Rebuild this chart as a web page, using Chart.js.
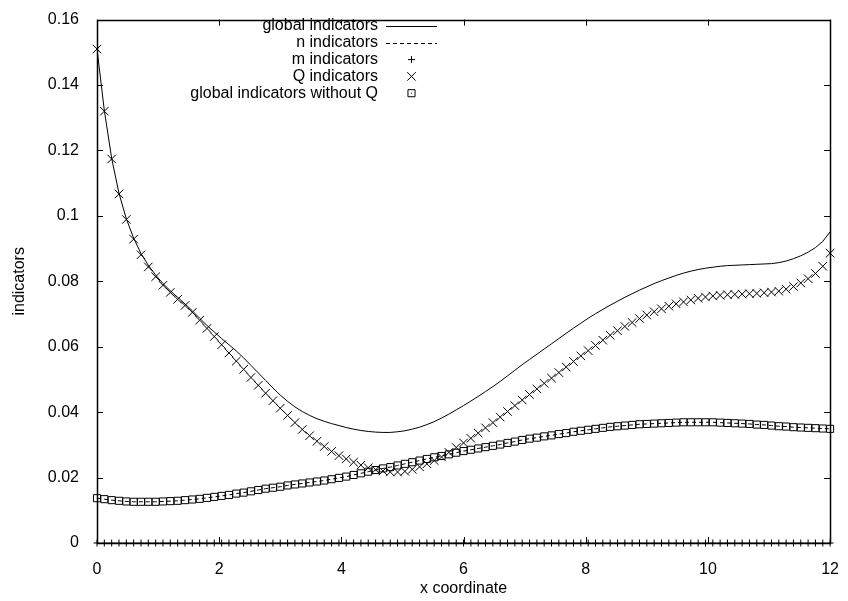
<!DOCTYPE html>
<html>
<head>
<meta charset="utf-8">
<script src="https://cdn.jsdelivr.net/npm/chart.js@4.4.0/dist/chart.umd.min.js"></script>
<style>
  html, body { margin: 0; padding: 0; background: #fff; }
  #wrap { width: 848px; height: 601px; }
</style>
</head>
<body>
<div id="wrap"><canvas id="indicatorChart" width="848" height="601"></canvas></div>
<script>
// sample positions along x (every 0.12)
const xCoords = [
  0, 0.12, 0.24, 0.36, 0.48, 0.6, 0.72, 0.84, 0.96, 1.08,
  1.2, 1.32, 1.44, 1.56, 1.68, 1.8, 1.92, 2.04, 2.16, 2.28,
  2.4, 2.52, 2.64, 2.76, 2.88, 3, 3.12, 3.24, 3.36, 3.48,
  3.6, 3.72, 3.84, 3.96, 4.08, 4.2, 4.32, 4.44, 4.56, 4.68,
  4.8, 4.92, 5.04, 5.16, 5.28, 5.4, 5.52, 5.64, 5.76, 5.88,
  6, 6.12, 6.24, 6.36, 6.48, 6.6, 6.72, 6.84, 6.96, 7.08,
  7.2, 7.32, 7.44, 7.56, 7.68, 7.8, 7.92, 8.04, 8.16, 8.28,
  8.4, 8.52, 8.64, 8.76, 8.88, 9, 9.12, 9.24, 9.36, 9.48,
  9.6, 9.72, 9.84, 9.96, 10.08, 10.2, 10.32, 10.44, 10.56, 10.68,
  10.8, 10.92, 11.04, 11.16, 11.28, 11.4, 11.52, 11.64, 11.76, 11.88,
  12
];

const globalIndicators = [
  0.151, 0.1322, 0.1176, 0.1069, 0.0991, 0.0932, 0.0885, 0.0849, 0.0819, 0.0793,
  0.0771, 0.0751, 0.0731, 0.071, 0.0687, 0.0665, 0.0645, 0.0625, 0.0606, 0.0587,
  0.0566, 0.0543, 0.052, 0.0497, 0.0474, 0.0452, 0.0433, 0.0416, 0.0402, 0.039,
  0.038, 0.0372, 0.0365, 0.0359, 0.0353, 0.0348, 0.0344, 0.0341, 0.0339, 0.0338,
  0.0338, 0.034, 0.0343, 0.0348, 0.0354, 0.0362, 0.0371, 0.0382, 0.0394, 0.0407,
  0.042, 0.0434, 0.0448, 0.0463, 0.0478, 0.0494, 0.0511, 0.0528, 0.0545, 0.0561,
  0.0577, 0.0593, 0.0609, 0.0625, 0.0641, 0.0657, 0.0672, 0.0687, 0.0701, 0.0714,
  0.0727, 0.0739, 0.0751, 0.0762, 0.0773, 0.0783, 0.0793, 0.0802, 0.081, 0.0818,
  0.0825, 0.0831, 0.0836, 0.084, 0.0843, 0.0846, 0.0848, 0.0849, 0.085, 0.0851,
  0.0852, 0.0853, 0.0854, 0.0857, 0.0862, 0.0869, 0.0878, 0.0889, 0.0903, 0.0922,
  0.0951
];

const withoutQ = [
  0.0137, 0.0134, 0.0131, 0.0129, 0.0127, 0.0126, 0.0126, 0.0126, 0.0126, 0.0127,
  0.0128, 0.0129, 0.0131, 0.0133, 0.0135, 0.0138, 0.0141, 0.0144, 0.0147, 0.0151,
  0.0154, 0.0158, 0.0162, 0.0166, 0.0169, 0.0172, 0.0176, 0.0179, 0.0182, 0.0185,
  0.0188, 0.0191, 0.0195, 0.0199, 0.0203, 0.0208, 0.0213, 0.0218, 0.0223, 0.0228,
  0.0232, 0.0237, 0.0242, 0.0247, 0.0252, 0.0257, 0.0262, 0.0266, 0.0271, 0.0276,
  0.0281, 0.0285, 0.0289, 0.0293, 0.0297, 0.0301, 0.0306, 0.031, 0.0315, 0.0319,
  0.0322, 0.0326, 0.0329, 0.0333, 0.0336, 0.034, 0.0343, 0.0346, 0.0349, 0.0352,
  0.0355, 0.0357, 0.0359, 0.0361, 0.0363, 0.0364, 0.0365, 0.0366, 0.0367, 0.0368,
  0.0369, 0.0369, 0.0369, 0.0369, 0.0369, 0.0368, 0.0367, 0.0366, 0.0365, 0.0364,
  0.0362, 0.0361, 0.0359, 0.0357, 0.0356, 0.0354, 0.0353, 0.0352, 0.0351, 0.035,
  0.0349
];

// the dashed n curve runs right through the boxes
const nIndicators = withoutQ;

const mIndicators = [
  0, 0, 0, 0, 0, 0, 0, 0, 0, 0, 0, 0, 0, 0, 0, 0, 0, 0, 0, 0,
  0, 0, 0, 0, 0, 0, 0, 0, 0, 0, 0, 0, 0, 0, 0, 0, 0, 0, 0, 0,
  0, 0, 0, 0, 0, 0, 0, 0, 0, 0, 0, 0, 0, 0, 0, 0, 0, 0, 0, 0,
  0, 0, 0, 0, 0, 0, 0, 0, 0, 0, 0, 0, 0, 0, 0, 0, 0, 0, 0, 0,
  0, 0, 0, 0, 0, 0, 0, 0, 0, 0, 0, 0, 0, 0, 0, 0, 0, 0, 0, 0,
  0
];

const qIndicators = [
  0.151, 0.132, 0.1174, 0.1067, 0.0989, 0.0929, 0.0881, 0.0844, 0.0814, 0.0788,
  0.0766, 0.0745, 0.0726, 0.0705, 0.0681, 0.0656, 0.0631, 0.0606, 0.0581, 0.0556,
  0.0531, 0.0506, 0.0482, 0.0458, 0.0435, 0.0412, 0.039, 0.0368, 0.0347, 0.0328,
  0.0311, 0.0295, 0.028, 0.0267, 0.0257, 0.0247, 0.0238, 0.023, 0.0224, 0.022,
  0.0217, 0.0217, 0.0219, 0.0225, 0.0233, 0.0242, 0.0252, 0.0263, 0.0277, 0.0292,
  0.0306, 0.032, 0.0336, 0.0352, 0.0368, 0.0385, 0.0402, 0.042, 0.0437, 0.0454,
  0.0471, 0.0488, 0.0504, 0.0521, 0.0538, 0.0555, 0.0572, 0.0588, 0.0604, 0.062,
  0.0635, 0.0649, 0.0662, 0.0674, 0.0686, 0.0697, 0.0707, 0.0716, 0.0724, 0.0731,
  0.0737, 0.0743, 0.0748, 0.0752, 0.0755, 0.0757, 0.0759, 0.076, 0.0761, 0.0762,
  0.0763, 0.0765, 0.0767, 0.077, 0.0776, 0.0784, 0.0795, 0.0808, 0.0824, 0.0846,
  0.0886
];

const seriesLabels = [
  'global indicators',
  'n indicators',
  'm indicators',
  'Q indicators',
  'global indicators without Q'
];

const toPoints = (ys) => xCoords.map((x, i) => ({ x: x, y: ys[i] }));

Chart.defaults.font.family = '"Liberation Sans", Arial, Helvetica, sans-serif';
Chart.defaults.font.size = 16;
Chart.defaults.color = '#000';

// gnuplot style frame: full box plus inward ticks on every side
const gnuFrame = {
  id: 'gnuFrame',
  afterDatasetsDraw(chart) {
    const { ctx, chartArea: a, scales } = chart;
    const len = 6;
    ctx.save();
    ctx.strokeStyle = '#000';
    ctx.lineWidth = 1;
    ctx.beginPath();
    scales.x.ticks.forEach(t => {
      const px = Math.round(scales.x.getPixelForValue(t.value)) + 0.5;
      ctx.moveTo(px, a.bottom); ctx.lineTo(px, a.bottom - len);
      ctx.moveTo(px, a.top); ctx.lineTo(px, a.top + len);
    });
    scales.y.ticks.forEach(t => {
      const py = Math.round(scales.y.getPixelForValue(t.value)) + 0.5;
      ctx.moveTo(a.left, py); ctx.lineTo(a.left + len, py);
      ctx.moveTo(a.right, py); ctx.lineTo(a.right - len, py);
    });
    ctx.stroke();
    ctx.lineWidth = 1.5;
    ctx.strokeRect(Math.round(a.left) + 0.5, Math.round(a.top) + 0.5,
      Math.round(a.right - a.left), Math.round(a.bottom - a.top));
    ctx.restore();
  }
};

function drawMark(ctx, style, x, y, r) {
  ctx.beginPath();
  if (style === 'cross') {
    ctx.moveTo(x - r, y); ctx.lineTo(x + r, y);
    ctx.moveTo(x, y - r); ctx.lineTo(x, y + r);
  } else if (style === 'crossRot') {
    const d = r * Math.SQRT1_2;
    ctx.moveTo(x - d, y - d); ctx.lineTo(x + d, y + d);
    ctx.moveTo(x - d, y + d); ctx.lineTo(x + d, y - d);
  } else if (style === 'rect') {
    const s = r * Math.SQRT1_2;
    ctx.rect(x - s, y - s, 2 * s, 2 * s);
    ctx.moveTo(x - 0.5, y); ctx.lineTo(x + 0.5, y);
  }
  ctx.stroke();
}

// key in the top middle, text right aligned and sample to its right
const gnuKey = {
  id: 'gnuKey',
  afterDraw(chart) {
    const { ctx } = chart;
    const textRight = 378, sampleL = 386, sampleR = 437, firstRow = 26, rowGap = 16.8;
    ctx.save();
    ctx.font = '16px "Liberation Sans", Arial, sans-serif';
    ctx.fillStyle = '#000';
    ctx.strokeStyle = '#000';
    ctx.lineWidth = 1;
    ctx.textAlign = 'right';
    ctx.textBaseline = 'middle';
    chart.data.datasets.forEach((ds, i) => {
      const y = firstRow + i * rowGap;
      ctx.fillText(ds.label, textRight, y);
      if (ds.showLine !== false) {
        ctx.setLineDash(ds.borderDash || []);
        ctx.beginPath();
        ctx.moveTo(sampleL, Math.round(y) + 0.5);
        ctx.lineTo(sampleR, Math.round(y) + 0.5);
        ctx.stroke();
        ctx.setLineDash([]);
      } else {
        drawMark(ctx, ds.pointStyle, (sampleL + sampleR) / 2, y, ds.pointRadius);
      }
    });
    ctx.restore();
  }
};

const ctx = document.getElementById('indicatorChart').getContext('2d');
new Chart(ctx, {
  type: 'line',
  data: {
    datasets: [
      {
        label: seriesLabels[0],
        data: toPoints(globalIndicators),
        borderColor: '#000',
        borderWidth: 1,
        pointRadius: 0,
        tension: 0
      },
      {
        label: seriesLabels[1],
        data: toPoints(nIndicators),
        borderColor: '#000',
        borderWidth: 1,
        borderDash: [4, 3],
        pointRadius: 0,
        tension: 0
      },
      {
        label: seriesLabels[2],
        data: toPoints(mIndicators),
        showLine: false,
        pointStyle: 'cross',
        pointRadius: 3.5,
        pointBorderColor: '#000',
        pointBorderWidth: 1,
        clip: false
      },
      {
        label: seriesLabels[3],
        data: toPoints(qIndicators),
        showLine: false,
        pointStyle: 'crossRot',
        pointRadius: 6,
        pointBorderColor: '#000',
        pointBorderWidth: 1,
        clip: false
      },
      {
        label: seriesLabels[4],
        data: toPoints(withoutQ),
        showLine: false,
        pointStyle: 'rect',
        pointRadius: 5,
        pointBorderColor: '#000',
        pointBackgroundColor: 'rgba(0,0,0,0)',
        pointBorderWidth: 1,
        clip: false
      }
    ]
  },
  options: {
    responsive: false,
    animation: false,
    devicePixelRatio: 1,
    layout: { padding: { top: 10, right: 12, bottom: 0, left: 0 } },
    plugins: {
      legend: { display: false },
      tooltip: { enabled: false }
    },
    scales: {
      x: {
        type: 'linear',
        min: 0,
        max: 12,
        ticks: { stepSize: 2, padding: 9, maxRotation: 0 },
        grid: { display: false },
        border: { display: false },
        title: { display: true, text: 'x coordinate', padding: { top: 0, bottom: 3 } },
        afterFit: (scale) => { scale.height = 58; }
      },
      y: {
        type: 'linear',
        min: 0,
        max: 0.16,
        ticks: {
          stepSize: 0.02,
          padding: 10,
          callback: (v) => String(+v.toFixed(2))
        },
        grid: { display: false },
        border: { display: false },
        title: { display: true, text: 'indicators', padding: { top: 10, bottom: 0 } },
        afterFit: (scale) => { scale.width = 97; }
      }
    }
  },
  plugins: [gnuFrame, gnuKey]
});
</script>
</body>
</html>
